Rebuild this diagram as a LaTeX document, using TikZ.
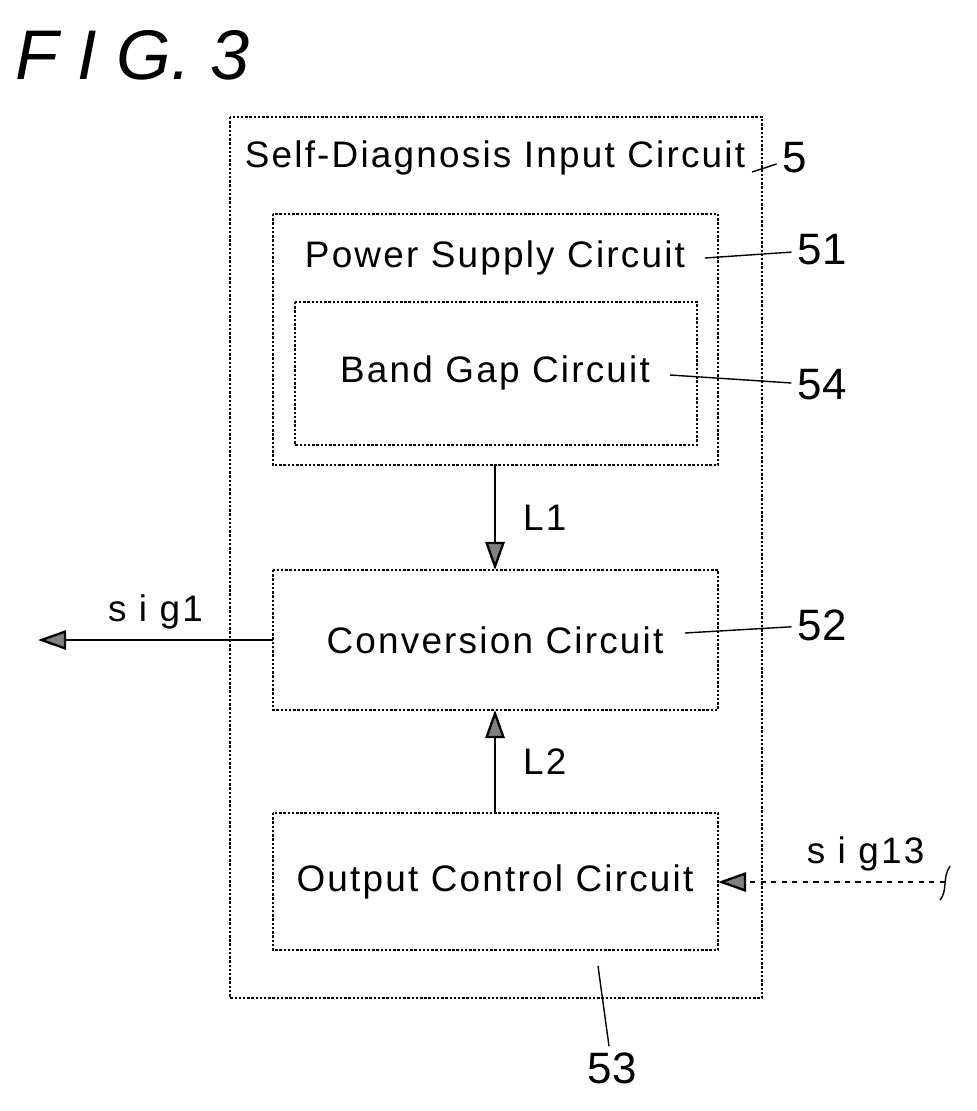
\documentclass[tikz,border=0pt]{standalone}
\usepackage{fontspec}
\setmainfont{Liberation Sans}
\usetikzlibrary{arrows.meta}
\begin{document}
\begin{tikzpicture}[x=0.02cm,y=-0.02cm,
  blk/.style = {draw, densely dotted, line width=1.4pt},
  txt/.style = {font=\fontsize{21}{24}\selectfont\addfontfeature{LetterSpace=6}},
  num/.style = {font=\fontsize{25}{28}\selectfont},
  arr/.style = {line width=1.3pt, -{Triangle[length=16pt,width=11pt,fill=gray]}}]
		\useasboundingbox (0,0) rectangle (976,1111);
		% Kehykset
		\node[inner sep=0, anchor=west] (fig) at (15,55) {\fontsize{40}{44}\selectfont\itshape F I G. 3};
		\draw[blk] (230,117) rectangle (762,998);
		\draw[blk] (273,214) rectangle (718,465);
		\draw[blk] (295,302) rectangle (697,445);
		\draw[blk] (273,570) rectangle (718,710);
		\draw[blk] (273,813) rectangle (718,950);
		% Tekstit
		\node[txt] (sdi) at (495,158) {Self-Diagnosis Input Circuit};
		\node[txt] (psc) at (495,258) {Power Supply Circuit};
		\node[txt] (bgc) at (495,373) {Band Gap Circuit};
		\node[txt] (cc) at (495,640) {Conversion Circuit};
		\node[txt] (occ) at (495,882) {Output Control Circuit};
		% Numerot
		\node[num] (n5) at (795,158) {5};
		\node[num] (n51) at (822,250) {51};
		\node[num] (n54) at (822,385) {54};
		\node[num] (n52) at (822,625) {52};
		\node[num] (n53) at (612,1068) {53};
		\draw[thick] (752,172) -- (n5);
		\draw[thick] (705,258) -- (n51);
		\draw[thick] (670,375) -- (n54);
		\draw[thick] (685,633) -- (n52);
		\draw[thick] (598,966) -- (n53);
		% Nuolet
		\coordinate (psb) at (495,465);
		\coordinate (cct) at (495,570);
		\coordinate (ccb) at (495,710);
		\coordinate (oct) at (495,813);
		\coordinate (ccl) at (273,640);
		\coordinate (out) at (38,640);
		\coordinate (ocr) at (718,882);
		\coordinate (in) at (945,882);
		\draw[arr] (psb) -- node[right=12pt, txt] {L1} (cct);
		\draw[arr] (oct) -- node[right=12pt, txt] {L2} (ccb);
		\draw[arr] (ccl) -- node[above=2pt, pos=0.5, txt] {s i g1} (out);
		\draw[arr, dashed] (in) -- node[above=2pt, pos=0.35, txt] {s i g13} (ocr);
		\draw[thick] (940,900) .. controls (948,890) and (942,878) .. (950,866);
		\end{tikzpicture}
\end{document}
